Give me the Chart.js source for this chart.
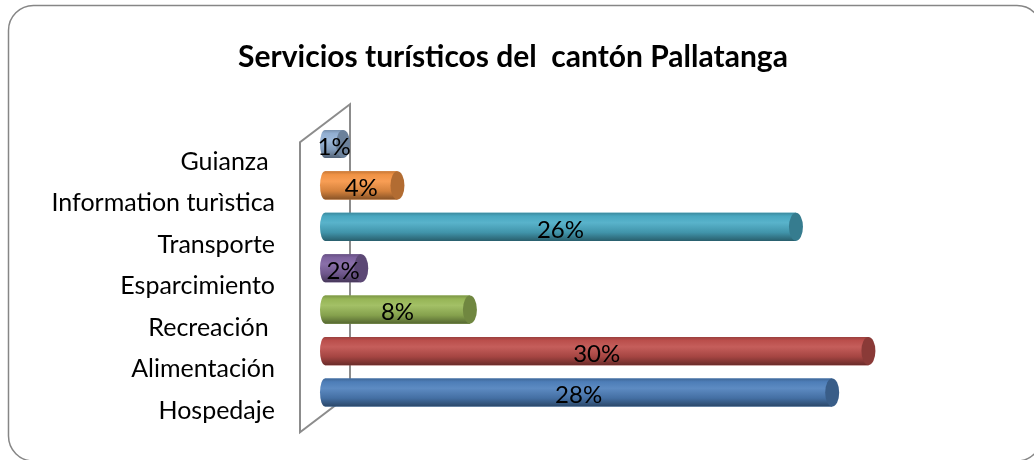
<!DOCTYPE html>
<html>
<head>
<meta charset="utf-8">
<script src="https://cdn.jsdelivr.net/npm/chart.js@4"></script>
<style>
  html, body { margin: 0; padding: 0; background: #fff; }
  #wrap { width: 1034px; height: 460px; }
</style>
</head>
<body>
<div id="wrap"><canvas id="serviciosChart"></canvas></div>
<script>
const chartTitle = "Servicios turísticos del  cantón Pallatanga";
const categories = ["Guianza ", "Information turìstica", "Transporte", "Esparcimiento", "Recreación ", "Alimentación", "Hospedaje"];
const percentages = [1, 4, 26, 2, 8, 30, 28];
const barColors = ["#95B3D7", "#F79646", "#4BACC6", "#8064A2", "#9BBB59", "#C0504D", "#4F81BD"];

// f < 1 darkens, f > 1 blends towards white
function mix(hex, f) {
  const n = parseInt(hex.slice(1), 16);
  const rgb = [n >> 16, (n >> 8) & 255, n & 255].map(v => f <= 1 ? v * f : v + (255 - v) * (f - 1));
  return "rgb(" + rgb.map(Math.round).join(",") + ")";
}

// rounded frame around the whole chart
const chartFrame = {
  id: "chartFrame",
  beforeDraw(chart) {
    const { ctx, width, height } = chart;
    ctx.save();
    ctx.fillStyle = "#fff";
    ctx.fillRect(0, 0, width, height);
    ctx.strokeStyle = "#868686";
    ctx.lineWidth = 1.5;
    ctx.beginPath();
    ctx.roundRect(8.5, 5.5, width + 8 - 8.5, height + 1 - 5.5, 25);
    ctx.stroke();
    ctx.restore();
  }
};

const cylinderBars = {
  id: "cylinderBars",
  beforeDatasetsDraw(chart) {
    // 3d side wall behind the bars
    const { ctx, chartArea: a } = chart;
    const dx = 25, dy = 19;
    ctx.save();
    ctx.strokeStyle = "#8c8c8c";
    ctx.lineWidth = 2;
    ctx.beginPath();
    ctx.moveTo(a.left + dx, a.top - dy);
    ctx.lineTo(a.left - dx, a.top + dy);
    ctx.lineTo(a.left - dx, a.bottom + dy);
    ctx.lineTo(a.left + dx, a.bottom - dy);
    ctx.closePath();
    ctx.stroke();
    ctx.restore();
  },
  afterDatasetsDraw(chart) {
    const { ctx } = chart;
    const meta = chart.getDatasetMeta(0);
    ctx.save();
    meta.data.forEach((bar, i) => {
      const { x, y, base, height } = bar.getProps(["x", "y", "base", "height"], true);
      const top = y - height / 2, bottom = y + height / 2, ry = height / 2;
      const c = barColors[i];
      const g = ctx.createLinearGradient(0, top, 0, bottom);
      g.addColorStop(0, mix(c, 0.8));
      g.addColorStop(0.12, mix(c, 0.97));
      g.addColorStop(0.35, mix(c, 1.08));
      g.addColorStop(0.7, mix(c, 0.86));
      g.addColorStop(1, mix(c, 0.55));
      ctx.fillStyle = g;
      ctx.beginPath();
      ctx.moveTo(x, top);
      ctx.lineTo(base, top);
      ctx.ellipse(base, y, 5, ry, 0, -Math.PI / 2, Math.PI / 2, true);
      ctx.lineTo(x, bottom);
      ctx.closePath();
      ctx.fill();
      // end cap
      ctx.fillStyle = mix(c, 0.72);
      ctx.beginPath();
      ctx.ellipse(x, y, 7, ry, 0, 0, Math.PI * 2);
      ctx.fill();
    });
    // data labels
    ctx.fillStyle = "#000";
    ctx.font = "24px Lato";
    ctx.textAlign = "center";
    ctx.textBaseline = "middle";
    meta.data.forEach((bar, i) => {
      const { x, y, base } = bar.getProps(["x", "y", "base"], true);
      ctx.fillText(percentages[i] + "%", (base + x) / 2, y + 3);
    });
    ctx.restore();
  }
};

function drawChart() {
  const ctx = document.getElementById("serviciosChart").getContext("2d");
  new Chart(ctx, {
    type: "bar",
    data: {
      labels: categories,
      datasets: [
        {
          label: "Servicios",
          data: percentages,
          backgroundColor: barColors,
          barPercentage: 0.68,
          categoryPercentage: 1,
        },
      ],
    },
    options: {
      indexAxis: "y",
      responsive: true,
      maintainAspectRatio: false,
      animation: false,
      devicePixelRatio: 1,
      layout: { padding: { top: 0, left: 0, right: 8, bottom: 46.8 } },
      scales: {
        x: { display: false, min: 0, max: 38.7 },
        y: {
          afterFit(scale) {
            scale.width = 325;
            // labels are shifted down, don't let them shrink the plot
            scale.paddingTop = 0;
            scale.paddingBottom = 0;
          },
          grid: { display: false, drawTicks: false },
          border: { display: false },
          ticks: { color: "#000", font: { family: "Lato", size: 25 }, padding: 50, labelOffset: 18 },
        },
      },
      plugins: {
        legend: { display: false },
        tooltip: { enabled: false },
        title: {
          display: true,
          text: chartTitle,
          color: "#000",
          font: { family: "Lato", size: 30, weight: "bold" },
          padding: { top: 39, bottom: 48.3 },
        },
      },
    },
    plugins: [chartFrame, cylinderBars],
  });
}

Promise.all([document.fonts.load("25px Lato"), document.fonts.load("bold 30px Lato")])
  .catch(() => {})
  .then(drawChart);
</script>
</body>
</html>
